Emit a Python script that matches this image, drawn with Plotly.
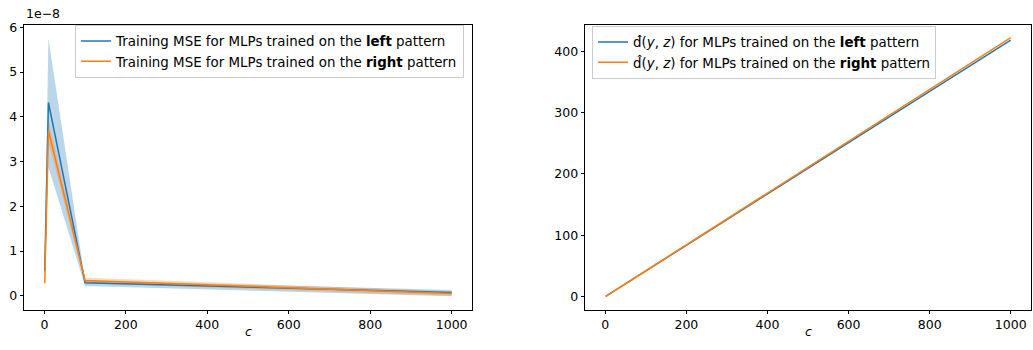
import plotly.graph_objects as go

# ---- data ----
c_values = [1, 10, 100, 1000]
SCALE = 1e-8
mse_left_mean = [0.55, 4.32, 0.29, 0.07]
mse_left_upper = [1.00, 5.76, 0.34, 0.13]
mse_left_lower = [0.12, 2.87, 0.22, -0.01]
mse_right_mean = [0.28, 3.69, 0.34, 0.05]
mse_right_upper = [0.30, 3.95, 0.40, 0.10]
mse_right_lower = [0.26, 3.45, 0.28, 0.00]
d_left = [0.42, 4.2, 41.8, 418.0]
d_right = [0.42, 4.2, 42.2, 422.0]
y_ticks_left = [0, 1, 2, 3, 4, 5, 6]
y_ticks_right = [0, 100, 200, 300, 400]
x_ticks = [0, 200, 400, 600, 800, 1000]

BLUE = "#1f77b4"
ORANGE = "#ff7f0e"
BLUE_FILL = "rgba(31,119,180,0.3)"
ORANGE_FILL = "rgba(255,127,14,0.3)"
FONT = "DejaVu Sans"
FS = 12.5
LFS = 13.4

fig = go.Figure()

def s(arr):
    return [v * SCALE for v in arr]

# bands
for lo, up, fc in [(mse_left_lower, mse_left_upper, BLUE_FILL),
                   (mse_right_lower, mse_right_upper, ORANGE_FILL)]:
    fig.add_trace(go.Scatter(
        x=c_values + c_values[::-1], y=s(up) + s(lo)[::-1],
        fill="toself", fillcolor=fc, line=dict(width=0), mode="lines",
        showlegend=False, hoverinfo="skip", xaxis="x", yaxis="y"))

fig.add_trace(go.Scatter(x=c_values, y=s(mse_left_mean), mode="lines",
                         line=dict(color=BLUE, width=1.5),
                         name="Training MSE for MLPs trained on the <b>left</b> pattern",
                         xaxis="x", yaxis="y", legend="legend"))
fig.add_trace(go.Scatter(x=c_values, y=s(mse_right_mean), mode="lines",
                         line=dict(color=ORANGE, width=1.5),
                         name="Training MSE for MLPs trained on the <b>right</b> pattern",
                         xaxis="x", yaxis="y", legend="legend"))

fig.add_trace(go.Scatter(x=c_values, y=d_left, mode="lines",
                         line=dict(color=BLUE, width=1.5),
                         name="d\u0302(<i>y</i>, <i>z</i>) for MLPs trained on the <b>left</b> pattern",
                         xaxis="x2", yaxis="y2", legend="legend2"))
fig.add_trace(go.Scatter(x=c_values, y=d_right, mode="lines",
                         line=dict(color=ORANGE, width=1.5),
                         name="d\u0302(<i>y</i>, <i>z</i>) for MLPs trained on the <b>right</b> pattern",
                         xaxis="x2", yaxis="y2", legend="legend2"))

W, H = 1033, 350
ydom = [1 - 309 / H, 1 - 20 / H]
axis_common = dict(showline=True, linecolor="black", linewidth=0.8, mirror=True,
                   ticks="outside", ticklen=3.5, tickwidth=0.8, tickcolor="black",
                   showgrid=False, zeroline=False,
                   tickfont=dict(family=FONT, size=FS, color="black"))

fig.update_layout(
    width=W, height=H,
    margin=dict(l=0, r=0, t=0, b=0),
    paper_bgcolor="white", plot_bgcolor="white",
    font=dict(family=FONT, size=FS, color="black"),
    xaxis=dict(domain=[24 / W, 472 / W], range=[-49.95, 1049.95],
               tickvals=x_ticks, anchor="y", **axis_common),
    yaxis=dict(domain=ydom, range=[-0.31e-8, 6.06e-8], anchor="x",
               tickvals=s(y_ticks_left), ticktext=[str(v) for v in y_ticks_left],
               **axis_common),
    xaxis2=dict(domain=[585 / W, 1031 / W], range=[-49.95, 1049.95],
                tickvals=x_ticks, anchor="y2", **axis_common),
    yaxis2=dict(domain=ydom, range=[-21.1, 443.1], anchor="x2",
                tickvals=y_ticks_right, **axis_common),
    legend=dict(x=75 / W, y=1 - 20 / H, xanchor="left", yanchor="top",
                bgcolor="rgba(255,255,255,0.8)", bordercolor="#cccccc", borderwidth=1,
                font=dict(family=FONT, size=LFS), tracegroupgap=0),
    legend2=dict(x=592 / W, y=1 - 21 / H, xanchor="left", yanchor="top",
                 bgcolor="rgba(255,255,255,0.8)", bordercolor="#cccccc", borderwidth=1,
                 font=dict(family=FONT, size=LFS), tracegroupgap=0),
    annotations=[
        dict(text="1e\u22128", x=24 / W, y=1 - 18 / H, xref="paper", yref="paper",
             xanchor="left", yanchor="bottom", showarrow=False,
             font=dict(family=FONT, size=FS, color="black")),
        dict(text="<i>c</i>", x=248 / W, y=1 - 331 / H, xref="paper", yref="paper",
             xanchor="center", yanchor="middle", showarrow=False,
             font=dict(family=FONT, size=FS, color="black")),
        dict(text="<i>c</i>", x=808 / W, y=1 - 331 / H, xref="paper", yref="paper",
             xanchor="center", yanchor="middle", showarrow=False,
             font=dict(family=FONT, size=FS, color="black")),
    ],
)

fig.write_html("out.html", config={"displayModeBar": False},
               post_script="document.body.style.margin='0px';document.body.style.overflow='hidden';")
